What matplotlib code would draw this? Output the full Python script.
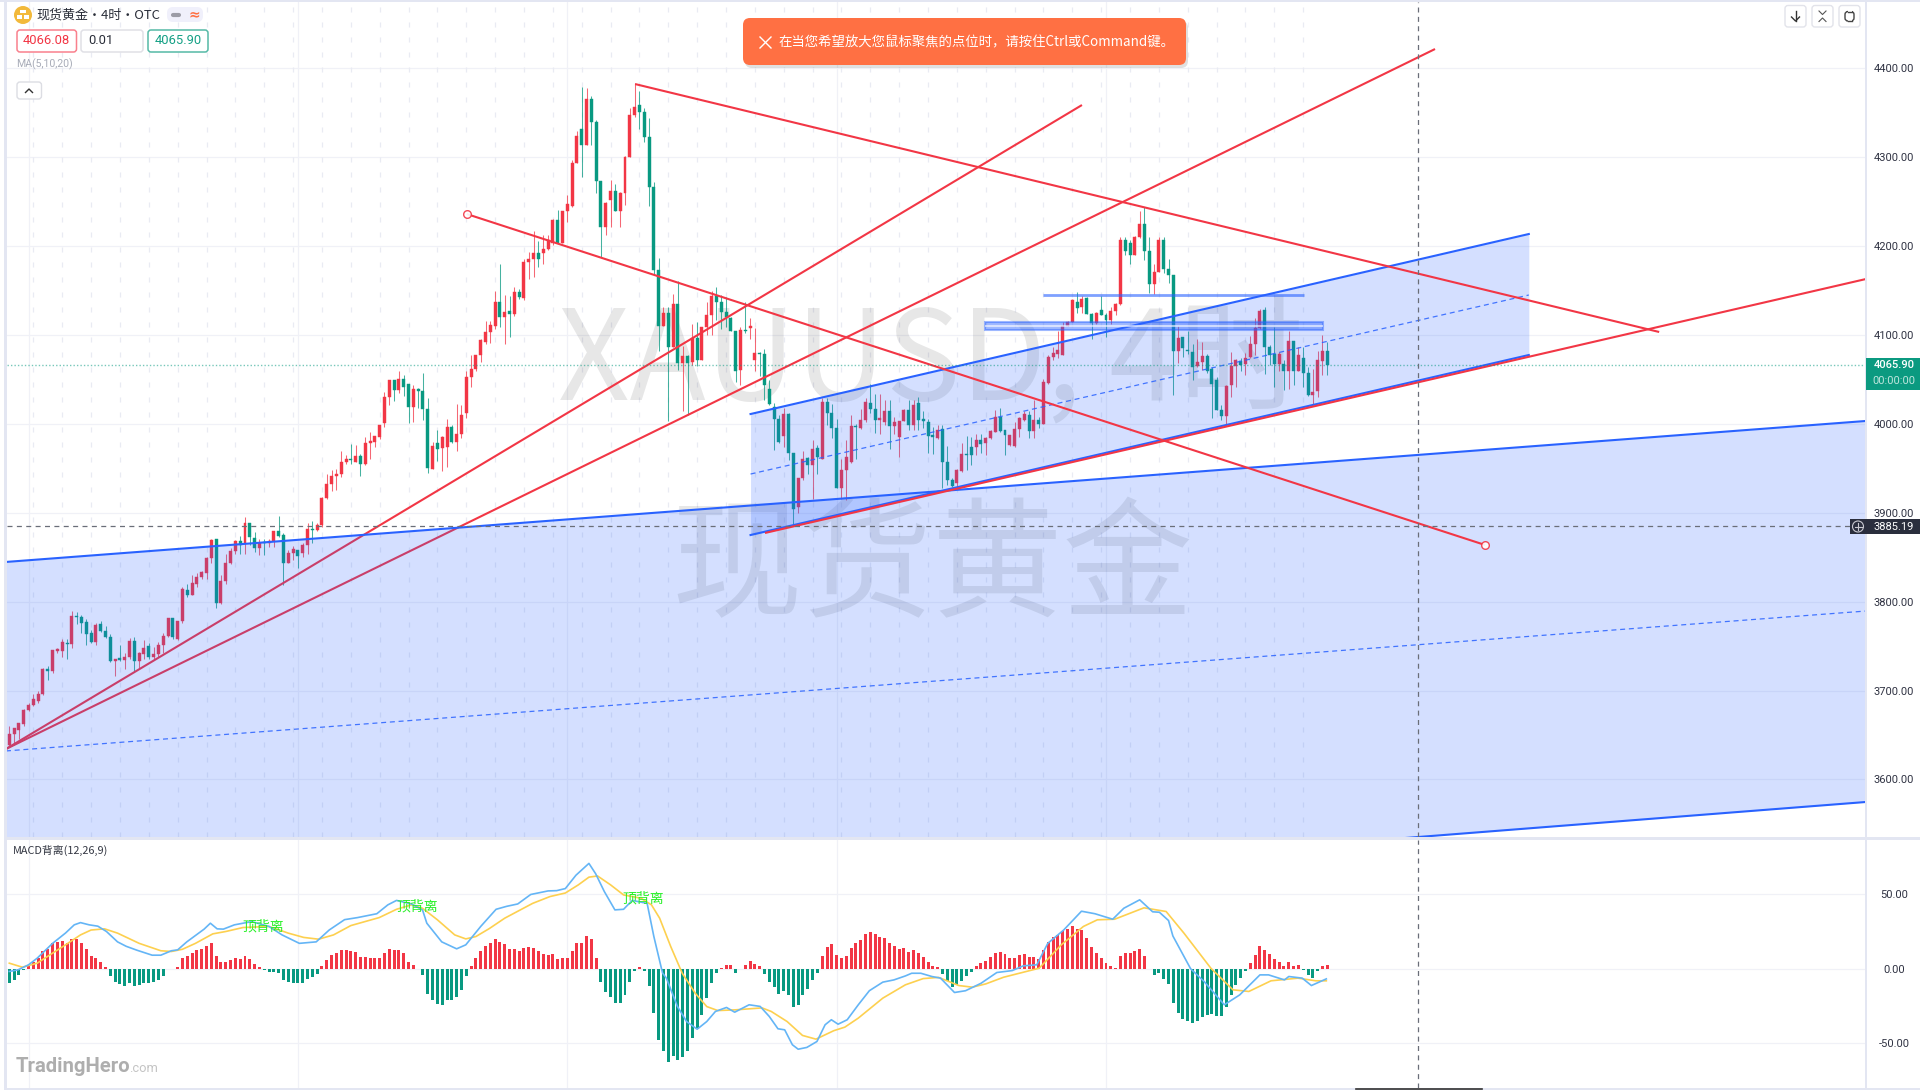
import matplotlib
matplotlib.use("Agg")
import matplotlib.pyplot as plt
from matplotlib.patches import FancyBboxPatch, Rectangle, Circle

CJK = ['Noto Sans CJK SC', 'DejaVu Sans']
plt.rcParams['font.family'] = ['Roboto', 'Noto Sans CJK SC', 'DejaVu Sans']

opens = [3639,3651,3656,3662,3678,3684,3688,3696,3724,3722,
3745,3744,3754,3752,3784,3783,3777,3765,3755,3775,
3767,3760,3733,3737,3734,3738,3756,3733,3741,3750,
3738,3741,3751,3761,3782,3758,3778,3813,3808,3820,
3828,3832,3849,3870,3798,3823,3843,3857,3868,3865,
3889,3872,3860,3867,3866,3868,3879,3875,3843,3855,
3858,3855,3864,3882,3881,3886,3917,3932,3941,3944,
3957,3960,3957,3964,3955,3978,3980,3985,4001,4030,
4049,4038,4050,4045,4019,4039,4037,4017,3949,3979,
3973,3974,3996,3980,3989,4012,4053,4062,4077,4092,
4103,4110,4137,4120,4127,4124,4148,4142,4182,4185,
4192,4192,4197,4203,4229,4204,4239,4245,4294,4332,
4314,4365,4340,4273,4221,4252,4262,4240,4260,4300,
4347,4359,4351,4323,4266,4173,4110,4125,4087,4135,
4068,4076,4070,4097,4072,4109,4123,4144,4137,4126,
4119,4104,4061,4106,4108,4072,4080,4079,4039,4019,
4005,3986,4011,3967,3907,3939,3962,3954,3973,3961,
4025,4012,3995,3928,3948,3957,3998,3995,4004,4023,
4017,4004,4002,4015,3998,3985,4003,4016,3999,4023,
4005,4002,3987,3984,3994,3957,3937,3933,3947,3966,
3974,3974,3982,3978,3984,3991,4008,3993,3976,3975,
3994,4004,4010,3992,4004,4000,4046,4075,4079,4078,
4110,4115,4137,4131,4142,4124,4114,4128,4123,4117,
4127,4135,4207,4204,4190,4210,4225,4195,4157,4171,
4207,4174,4167,4082,4098,4083,4081,4065,4070,4076,
4062,4049,4016,4009,4044,4065,4071,4067,4075,4090,
4108,4128,4087,4079,4067,4067,4060,4093,4060,4074,
4057,4032,4037,4071,4082]

closes = [3651,3658,3663,3678,3684,3690,3696,3724,3722,3746,
3747,3755,3752,3784,3783,3776,3764,3755,3774,3767,
3760,3733,3735,3734,3738,3756,3733,3742,3748,3738,
3741,3751,3761,3782,3760,3778,3814,3807,3821,3828,
3833,3849,3869,3798,3823,3843,3857,3868,3864,3889,
3873,3860,3866,3866,3868,3879,3874,3844,3855,3859,
3851,3864,3882,3881,3886,3917,3932,3941,3944,3957,
3960,3959,3964,3955,3978,3981,3986,3999,4030,4049,
4038,4050,4042,4019,4039,4037,4017,3950,3975,3972,
3985,3996,3980,3989,4010,4053,4062,4077,4094,4103,
4111,4137,4120,4126,4124,4148,4143,4182,4185,4192,
4186,4197,4207,4229,4204,4239,4247,4294,4324,4314,
4365,4340,4273,4221,4248,4262,4240,4260,4300,4347,
4356,4351,4323,4266,4173,4110,4125,4087,4135,4068,
4076,4069,4097,4072,4109,4123,4144,4137,4126,4120,
4104,4060,4106,4105,4110,4080,4079,4044,4022,4006,
3980,4011,3967,3904,3939,3961,3954,3972,3963,4025,
4012,3995,3928,3948,3963,3998,3996,4004,4025,4017,
4004,4007,4015,3998,4002,4003,4016,3999,4021,4004,
4003,3986,3985,3993,3957,3937,3930,3948,3966,3965,
3965,3982,3977,3984,3992,4008,3992,3987,3987,3994,
4007,4011,3992,4004,4000,4047,4075,4080,4083,4110,
4115,4139,4130,4141,4124,4114,4125,4123,4117,4127,
4135,4207,4194,4190,4210,4225,4195,4157,4171,4207,
4174,4167,4082,4097,4085,4082,4064,4070,4076,4060,
4045,4016,4009,4043,4065,4072,4066,4074,4090,4108,
4127,4087,4077,4067,4079,4060,4093,4060,4077,4057,
4032,4036,4072,4082,4066]

highs = [3660,3658,3664,3679,3686,3696,3699,3725,3728,3746,
3748,3758,3758,3790,3788,3785,3780,3768,3776,3778,
3773,3764,3736,3751,3742,3759,3760,3743,3757,3753,
3749,3755,3765,3782,3782,3778,3816,3820,3830,3832,
3834,3850,3870,3871,3830,3854,3860,3869,3874,3895,
3889,3878,3870,3870,3870,3880,3896,3877,3858,3863,
3858,3866,3889,3891,3888,3918,3944,3948,3949,3969,
3965,3977,3976,3966,3985,3991,3986,3999,4036,4049,
4049,4059,4055,4045,4044,4040,4057,4029,3980,3993,
3986,4005,3999,4022,4021,4059,4077,4078,4095,4116,
4116,4150,4180,4145,4144,4154,4152,4186,4193,4217,
4206,4212,4212,4230,4241,4240,4257,4297,4330,4379,
4378,4369,4342,4273,4250,4274,4270,4261,4301,4355,
4383,4375,4355,4344,4272,4187,4131,4132,4146,4161,
4088,4077,4112,4115,4109,4137,4150,4154,4145,4143,
4120,4104,4109,4137,4119,4108,4081,4084,4049,4023,
4010,4018,4012,3967,3939,3969,3963,3982,3976,4029,
4029,4022,4006,3961,3982,4010,4000,4017,4029,4045,
4034,4034,4027,4027,4008,4003,4017,4027,4027,4030,
4015,4005,3997,3999,3999,3975,3939,3949,3978,3986,
3985,3989,3989,3985,3993,4016,4018,3993,3987,4002,
4008,4015,4014,4027,4008,4051,4077,4086,4105,4115,
4116,4141,4148,4144,4143,4125,4126,4144,4125,4132,
4136,4210,4210,4207,4211,4239,4244,4210,4180,4210,
4210,4186,4167,4110,4098,4105,4090,4095,4092,4079,
4064,4053,4021,4044,4081,4073,4074,4080,4099,4119,
4129,4132,4089,4109,4081,4072,4105,4093,4087,4087,
4064,4062,4082,4100,4092]

lows = [3637,3639,3645,3660,3677,3683,3686,3695,3712,3720,
3742,3738,3736,3748,3775,3765,3751,3754,3751,3766,
3759,3732,3716,3733,3724,3736,3722,3724,3736,3736,
3734,3738,3742,3760,3758,3757,3776,3805,3807,3817,
3825,3825,3843,3793,3797,3820,3842,3854,3854,3854,
3864,3856,3853,3853,3862,3862,3873,3819,3843,3847,
3838,3850,3854,3866,3880,3884,3916,3925,3926,3940,
3955,3955,3957,3941,3954,3961,3974,3983,3996,4021,
4026,4035,4031,4001,4002,4018,4004,3945,3949,3958,
3947,3952,3979,3970,3984,4007,4042,4060,4070,4090,
4091,4107,4109,4090,4098,4121,4141,4139,4163,4165,
4176,4180,4196,4201,4204,4203,4227,4244,4293,4278,
4314,4314,4260,4188,4212,4222,4240,4222,4246,4300,
4345,4332,4317,4245,4168,4082,4110,4003,4087,4061,
4015,4010,4066,4065,4072,4100,4100,4117,4107,4109,
4104,4047,4044,4102,4096,4059,4054,4027,4021,3971,
3978,3974,3959,3886,3900,3937,3944,3916,3944,3961,
3999,3984,3928,3916,3914,3956,3960,3994,4002,4012,
3990,3989,3999,3972,3989,3963,4003,3993,3993,3993,
3995,3967,3966,3983,3928,3931,3929,3929,3946,3948,
3954,3965,3967,3965,3983,3991,3991,3965,3975,3974,
3985,4003,3984,3984,3995,4000,4045,4072,4074,4077,
4110,4115,4125,4125,4124,4096,4112,4122,4098,4112,
4122,4134,4190,4180,4190,4209,4184,4147,4146,4171,
4170,4158,4032,4068,4075,4079,4049,4064,4061,4057,
4007,4016,4004,3999,4030,4042,4060,4055,4074,4078,
4107,4056,4066,4042,4059,4038,4039,4044,4059,4042,
4031,4022,4030,4055,4055]

hist = [-9.5,-7.6,-4.3,-1,2.5,4.7,7,11.5,13,17,18,18.7,17.5,20,20,17.5,13.5,8.5,7,4.3,1.3,
-5,-8.8,-10.4,-12,-10,-11.5,-11,-9.7,-9.5,-9,-7.6,-5,-.4,-.3,
.9,6.8,8.5,10.8,12.6,13.3,14.9,17,8.5,4.7,4.7,5.9,7.2,6.5,8.5,6.5,2.9,1.1,
-1,-2.5,-2.5,-3,-8,-8.8,-10,-10,-10,-6.8,-5.4,-3.8,
1.8,5.9,9,10.8,12.6,12.8,11.7,11,7.9,7.9,7.2,6.8,7.2,10.4,13.3,12.8,12.8,10.4,4.3,2.5,
-.5,-4.7,-17,-21,-24,-24.5,-21.6,-21,-19,-14.4,-5,
2,7.2,12,15,17,20,18,16.4,13.5,13.5,11.5,14,14.6,14,12,10,9.2,10,6.3,6.8,6.8,11.5,17,17,22,19.6,7.2,
-8.8,-16,-19,-23.4,-23.4,-17.8,-8.8,-1.8,1.1,-1.8,-11.7,-30,-48,
-56,-63.2,-59.4,-62.1,-59.9,-55.6,-47,-40.7,-31.3,-20,
-9.9,-2.7,.5,2.5,2.5,-3.2,-.5,2.5,5.4,2.9,
1.8,-3.8,-8.8,-12.8,-17.1,-15.1,-17.8,-25.7,-24.5,-18.2,
-13.7,-7.7,-3.2,8.6,14.4,16.4,9,7.2,8.6,14,
16.9,19.4,23.6,25,23,21.2,20.7,17.1,15.3,13.5,
14,11.3,12.2,10.4,7.9,4.3,1.8,1.1,-3.6,-8.1,
-12.2,-11.3,-8.1,-5,-2.3,1.8,3.6,5.4,7.9,10.8,
11,9.7,6.8,7.2,9,9.7,7.9,7.9,6.5,12.2,
18,21.2,22.5,25.4,26.8,28.6,26.8,25.7,20.7,14.6,
10.4,7.2,3.6,1.8,.5,8.6,10.8,10.4,11.5,13.3,
8.6,-.5,-4.3,-2.7,-6.8,-10.4,-23.6,-29.9,-34.2,-35.3,
-37.1,-35.3,-32.9,-31.1,-30.4,-32.4,-32.4,-26.1,-18.2,-11,
-6.1,-1.8,3.6,9,15.1,12.6,9.7,6.5,4.3,1.8,
4.3,1.8,2.5,-.7,-4.3,-6.1,-2,1.8,2.5]

dif_bar = [0,1.8,4,5.8,9,11.7,13.5,14.8,16.6,18.4,20.2,22.5,24.3,26.5,29.7,31.5,33.7,35,36.9,40.5,
41.8,43.2,44.5,46.8,50.4,54,56.7,60.3,63.8,66.5,69.7,72.4,76.4,78.7,80.5,83.6,85.9,86.8,89.9,93,
94.9,98,101.2,103.4,105.7,108.4,112,113.8,115.6,117.8,120.5,121.9,123.7,125.9,127.7,129.5,132.6,134,135.8,
136.6,138.9,140.8,143,145,146.8,149.1,150.8,153.8,156.1,158,159.8,161.2,162.8,164,165.8,167.9,169.6,170.9,172.3,174.2,
176.5,178.8,181.6,183.9,186.3,187.6,189.5,191.8,193.6,196.5,198.8,202,205.3,208.5,210.8,213.6,215.9,219.2,222.9,225.7,
229.4,231.7,235,237.7,239.1,241,241.9,245.6,248.4,252.6,255.8,260,261.8,265.1,266,268.8,270.7,273.8]
dif_val = [-2,-.9,2.5,7,17,24,29.5,31,29.5,28.6,25,18,15,12.4,9,9,12,12.6,18,26.6,
30.6,26.8,26.6,29.5,31.7,28.4,22.7,17,18,26,33,34.4,37,43,46,43.6,39.6,30.6,18,13.3,
16,28.4,40,42,43.6,50,52.4,52.6,54,63,71,64,52,39.6,40,46,44,21.6,-3,
-6.5,-25.6,-35.8,-41,-35.8,-29,-26.3,-29.5,-24.5,-25.6,-32.4,-40.7,-41.4,-51.5,-54.5,-53.3,-49.3,-38,-34.6,-37.6,-34.6,
-24.5,-15,-9.2,-7.7,-5,-3.2,-3.2,-5.4,-6.5,-16.2,-15,-10,-2.7,-1.4,1.8,2.5,17,26,38.7,37,
33.3,40.7,46.4,38.3,38,32.4,22,-.2,-8.8,-24.5,-17.8,-4.3,-4.3,-7.7,-5.4,-6.5,-11.5,-7]

dea_bar = [0,2.7,5.8,9,11.7,14.8,17,19.8,22.5,27,31.5,33.7,36,38.7,42.3,45,48.6,54,58,61.2,64.3,67.4,71,76.9,
80.5,83.6,85.9,89,92.6,94.9,97,99.8,103,108.8,112.4,115.6,118.3,120.5,122.3,125,127.7,131.3,133.5,135.2,
137.5,139.9,142.6,145,147.3,151,156.5,158.4,161.7,164.9,167.7,171.4,173.7,176.5,181.6,186.3,190,193.2,197.4,200.2,
203,206.7,214.1,218.7,223.3,226.2,229.8,235.9,240.5,244.2,249.8,254.4,257.7,262.3,267.9,271.6,273.8]
dea_val = [3.6,.9,3.6,10.4,16,22.7,26,26.8,23.9,17,12,11.5,13,17,23.4,25,27.7,28.4,23.9,21,19.8,22.7,29,34.4,
40,43,40.7,32.9,22.7,20,21.6,27,34,44,48.6,51,56.5,61.7,62.5,56.5,49.7,47.5,43,34,
14.9,-3.2,-16.7,-25.7,-28.4,-27.9,-26.6,-29,-35.8,-45.2,-47.7,-42,-39.6,-33.5,-20,-11,-6.8,-6,-11.5,-12.6,
-10.4,-5.9,.2,16,28.4,32.9,33.3,41,38.5,23.9,.2,-14.4,-15.5,-8.3,-6.5,-8.3,-8.3]

price_ticks = [3600,3700,3800,3900,4000,4100,4200,4300,4400]
macd_ticks = [-50,0,50]
last_price = 4065.90
cross_price = 3885.19
cross_bar = 292.9

# trend lines as (bar, price) end points
red_a = ([130.1,343.0],[4382.3,4103.4])
red_b = ([-0.7,296.4],[3634.3,4421.7])
red_c = ([-0.7,223.0],[3634.3,4358.7])
red_d = ([95.1,306.8],[4236.1,3863.8])
red_e = ([157.1,386.0],[3877.3,4163.0])
ch1_bar = [-0.7,386.0]
ch1_top = [3844.7,4003.3]
ch1_mid = [3632.1,3789.5]
ch1_low = [3411.0,3574.7]
ch2_bar = [154.1,315.9]
ch2_top = [4011.1,4213.6]
ch2_mid = [3943.6,4145.0]
ch2_low = [3875.0,4077.5]
hline_bar = [214.8,269.2]
hline_price = 4145.3
box_bar = [202.8,273.1]
box_price = [4106.0,4114.6]
div_bar = [52.7,84.8,131.7]
div_val = [28.5,42.0,47.0]

RED = '#f23645'; GREEN = '#089981'; BLUE = '#2962ff'; CHROME = '#e3e6f2'; GRID = '#f0f1f7'
W, H = 1920, 1090

fig = plt.figure(figsize=(19.2, 10.9), dpi=100, facecolor='white')
def px_axes(l, t, r, b):
    return fig.add_axes([l/W, 1-b/H, (r-l)/W, (b-t)/H])

ax = px_axes(7, 2, 1866, 837)
mx = px_axes(7, 840, 1866, 1088)
ax.set_xlim(-0.48, 386.0); ax.set_ylim(3535.3, 4474.6)
mx.set_xlim(-0.48, 386.0); mx.set_ylim(-80.7, 86.8)

for a in (ax, mx):
    for s in a.spines.values():
        s.set_visible(False)
    a.yaxis.tick_right()
    a.set_xticks([])
    a.tick_params(axis='y', length=0, labelsize=8.0, labelcolor='#2f3242', pad=20.2)
ax.set_yticks(price_ticks); ax.set_yticklabels([f'{v:.2f}' for v in price_ticks], ha='center')
mx.set_yticks(macd_ticks); mx.set_yticklabels([f'{v:.2f}' for v in macd_ticks], ha='center')

# grids
for a, ticks in ((ax, price_ticks), (mx, macd_ticks)):
    for v in ticks:
        a.axhline(v, color=GRID, lw=0.9, zorder=1)
    for b in range(4, 270, 56):
        a.axvline(b, color=GRID, lw=0.9, zorder=1)
for b in range(5, 270, 6):
    ax.axvline(b, ymax=0.994, color='#e9ebf3', lw=0.9, ls=(0, (4, 8)), zorder=1)

# watermarks
ax.text(191.6, 4066, 'XAUUSD, 4时', ha='center', va='center', fontsize=90, color='#000000', alpha=0.095,
        family=CJK, zorder=2)
ax.text(192, 3835, '现货黄金', ha='center', va='center', fontsize=94, color='#000000', alpha=0.095,
        family=CJK, zorder=2)

# candles
xs = list(range(len(opens)))
cols = [RED if c >= o else GREEN for o, c in zip(opens, closes)]
ax.vlines(xs, lows, highs, colors=cols, lw=0.75, alpha=0.75, zorder=3)
ax.bar(xs, [abs(c-o) for o, c in zip(opens, closes)], bottom=[min(o, c) for o, c in zip(opens, closes)],
       width=0.62, color=cols, edgecolor=cols, linewidth=0.3, zorder=3)

# lines below the channel fill
ax.plot(*red_b, color=RED, lw=1.5, zorder=4, solid_capstyle='butt')
ax.plot(*red_c, color=RED, lw=1.5, zorder=4, solid_capstyle='butt')

# channels
ax.fill_between(ch1_bar, ch1_low, ch1_top, color=BLUE, alpha=0.2, lw=0, zorder=5)
ax.fill_between(ch2_bar, ch2_low, ch2_top, color=BLUE, alpha=0.2, lw=0, zorder=5)
ax.plot(ch1_bar, ch1_top, color=BLUE, lw=1.5, zorder=6)
ax.plot(ch1_bar, ch1_low, color=BLUE, lw=1.5, zorder=6)
ax.plot(ch1_bar, ch1_mid, color=BLUE, lw=0.9, ls=(0, (4, 3)), alpha=0.85, zorder=6)
ax.plot(ch2_bar, ch2_top, color=BLUE, lw=1.5, zorder=6)
ax.plot(ch2_bar, ch2_low, color=BLUE, lw=1.5, zorder=6)
ax.plot(ch2_bar, ch2_mid, color=BLUE, lw=0.9, ls=(0, (4, 3)), alpha=0.85, zorder=6)

# horizontal zone
ax.plot(hline_bar, [hline_price, hline_price], color=BLUE, lw=2.0, alpha=0.6, zorder=6, solid_capstyle='butt')
ax.add_patch(Rectangle((box_bar[0], box_price[0]), box_bar[1]-box_bar[0], box_price[1]-box_price[0],
                       facecolor=BLUE, edgecolor=BLUE, lw=1.5, alpha=0.45, zorder=6))
ax.plot(box_bar, [sum(box_price)/2]*2, color='white', lw=1.5, alpha=0.6, zorder=6, solid_capstyle='butt')

# top lines
ax.plot(*red_a, color=RED, lw=1.5, zorder=7, solid_capstyle='butt')
ax.plot(*red_e, color=RED, lw=1.5, zorder=7, solid_capstyle='butt')
ax.plot(*red_d, color=RED, lw=1.5, zorder=7, solid_capstyle='butt')
ax.plot(*red_d, ls='none', marker='o', ms=5.5, mfc='white', mec=RED, mew=1.0, alpha=0.9, zorder=8)

# price lines
ax.axhline(last_price, color=GREEN, lw=1.0, ls=(0, (1, 1.5)), alpha=0.55, zorder=8)
ax.axhline(cross_price, color='#6a6e78', lw=0.9, ls=(0, (4, 3.5)), zorder=8)
for a in (ax, mx):
    a.axvline(cross_bar, color='#6a6e78', lw=0.9, ls=(0, (4, 3.5)), zorder=8)

# MACD panel
mx.bar(range(len(hist)), hist, width=0.62, color=[RED if v >= 0 else GREEN for v in hist], lw=0, zorder=3)
mx.plot(dea_bar, dea_val, color='#fdd04f', lw=1.2, zorder=4)
mx.plot(dif_bar, dif_val, color='#64b5f6', lw=1.2, zorder=5)
for b, v in zip(div_bar, div_val):
    mx.text(b, v, '顶背离', ha='center', va='center', fontsize=10, color='#28f028', family=CJK, zorder=6)

# interface layer in pixel coordinates
ui = fig.add_axes([0, 0, 1, 1], facecolor='none', zorder=20)
ui.set_xlim(0, W); ui.set_ylim(H, 0); ui.axis('off')

def rbox(x0, y0, x1, y1, fc='white', ec='none', r=3, lw=1.0, z=1, alpha=1):
    p = FancyBboxPatch((x0, y0), x1-x0, y1-y0, boxstyle=f'round,pad=0,rounding_size={r}',
                       fc=fc, ec=ec, lw=lw, zorder=z, alpha=alpha)
    ui.add_patch(p)

for rect in ((3.5, 0, 3.5, H), (0, 0, W, 2), (3.5, 837, W, 3), (3.5, 1088, W, 2), (1865, 0, 1.5, H)):
    ui.add_patch(Rectangle((rect[0], rect[1]), rect[2], rect[3], fc=CHROME, ec='none', zorder=0))
ui.plot([1356, 1482], [1089, 1089], color='#333333', lw=1.2, zorder=1)

# price tags
ui.add_patch(Rectangle((1866, 358), 54, 32, fc='#0b9a80', ec='none', zorder=2))
ui.text(1894, 365, '4065.90', color='white', fontsize=8.0, ha='center', va='center', fontweight='medium', zorder=3)
ui.text(1894, 381, '00:00:00', color='#bfe6dd', fontsize=8.0, ha='center', va='center', zorder=3)
ui.add_patch(Rectangle((1850, 519), 70, 15, fc='#2a2e3d', ec='none', zorder=2))
ui.text(1894, 526.7, '3885.19', color='white', fontsize=8.0, ha='center', va='center', zorder=3)
ui.add_patch(Circle((1858, 526.5), 5.5, fc='none', ec='#c8c8d0', lw=0.8, zorder=3))
ui.plot([1854.5, 1861.5], [526.5, 526.5], color='#c8c8d0', lw=0.8, zorder=3)
ui.plot([1858, 1858], [523, 530], color='#c8c8d0', lw=0.8, zorder=3)

# header
ui.add_patch(Circle((23, 15), 9, fc='#f2b93b', ec='none', zorder=3))
for cx, cy in ((23, 11.5), (19.5, 17), (26.5, 17)):
    ui.add_patch(Rectangle((cx-2.7, cy-1.8), 5.4, 3.6, fc='white', ec='none', zorder=4))
ui.text(36, 15, '现货黄金・4时・OTC', fontsize=9.4, color='#2a2e39', ha='left', va='center', family=CJK, zorder=3)
rbox(167, 7, 203, 22, fc='#f0f0fb', r=6, z=2)
ui.plot([173, 179], [14.5, 14.5], color='#9c9ca6', lw=3, solid_capstyle='round', zorder=3)
ui.text(194, 14.5, '≈', color='#ff7043', fontsize=10, fontweight='bold', ha='center', va='center',
        family='DejaVu Sans', zorder=3)
rbox(17, 30, 76.5, 52, ec='#f9808d', lw=1.1, z=2)
ui.text(46.7, 41, '4066.08', color=RED, fontsize=9.4, ha='center', va='center', zorder=3)
rbox(81, 30, 143, 52, ec='#e0e0e6', lw=1.1, z=2)
ui.text(88, 41, '0.01', color='#2a2e39', fontsize=9.4, ha='left', va='center', zorder=3)
rbox(148, 30, 208, 52, ec='#55b9a6', lw=1.1, z=2)
ui.text(178, 41, '4065.90', color='#14a085', fontsize=9.4, ha='center', va='center', zorder=3)
ui.text(16, 64, 'MA(5,10,20)', color='#a8acb8', fontsize=7.6, ha='left', va='center', zorder=3)
rbox(17, 82, 41.5, 99, ec='#dcdde3', lw=1.0, z=2)
ui.plot([25.5, 29, 32.5], [92.5, 89, 92.5], color='#333333', lw=1.0, zorder=3)

# toast
rbox(745, 21, 1188, 68, fc='#000000', r=7, z=4, alpha=0.12)
rbox(743, 18, 1186, 65, fc='#ff7043', r=7, z=5)
ui.plot([760, 771], [37, 48], color='white', lw=1.0, zorder=6)
ui.plot([760, 771], [48, 37], color='white', lw=1.0, zorder=6)
ui.text(778, 42.5, '在当您希望放大您鼠标聚焦的点位时，请按住Ctrl或Command键。', color='white', fontsize=9.67,
        ha='left', va='center', family=CJK, zorder=6)

# top right buttons
for x0 in (1785, 1812, 1839):
    rbox(x0, 5.5, x0+21, 27, ec='#e2e3ea', lw=1.0, z=2)
ui.plot([1795.5, 1795.5], [11, 21], color='#333', lw=1.0, zorder=3)
ui.plot([1791.5, 1795.5, 1799.5], [17, 21, 17], color='#333', lw=1.0, zorder=3)
ui.plot([1819, 1822.5, 1826], [11, 14.5, 11], color='#555', lw=0.8, zorder=3)
ui.plot([1819, 1822.5, 1826], [21.5, 18, 21.5], color='#555', lw=0.8, zorder=3)
rbox(1845, 11.5, 1854, 21, ec='#444', lw=1.0, r=3, z=3)
ui.add_patch(Rectangle((1847.5, 10), 4, 13, fc='white', ec='none', zorder=4))
ui.plot([1847.5, 1851.5], [11.5, 11.5], color='#444', lw=1.0, zorder=5)
ui.plot([1847.5, 1851.5], [21, 21], color='#444', lw=1.0, zorder=5)

# MACD caption and logo
ui.text(13, 850, 'MACD背离(12,26,9)', color='#333742', fontsize=7.8, ha='left', va='center', family=CJK, zorder=3)
ui.text(16, 1067, 'TradingHero', color='#aeaeae', fontsize=14.6, fontweight='bold', ha='left', va='center', zorder=3)
ui.text(129, 1068, '.com', color='#c4c4c4', fontsize=9.3, ha='left', va='center', zorder=3)

assert len(opens) == len(closes) == len(highs) == len(lows) == len(hist) == 275
assert len(dif_bar) == len(dif_val) and len(dea_bar) == len(dea_val)
fig.savefig('out.png', dpi=100, facecolor='white')
